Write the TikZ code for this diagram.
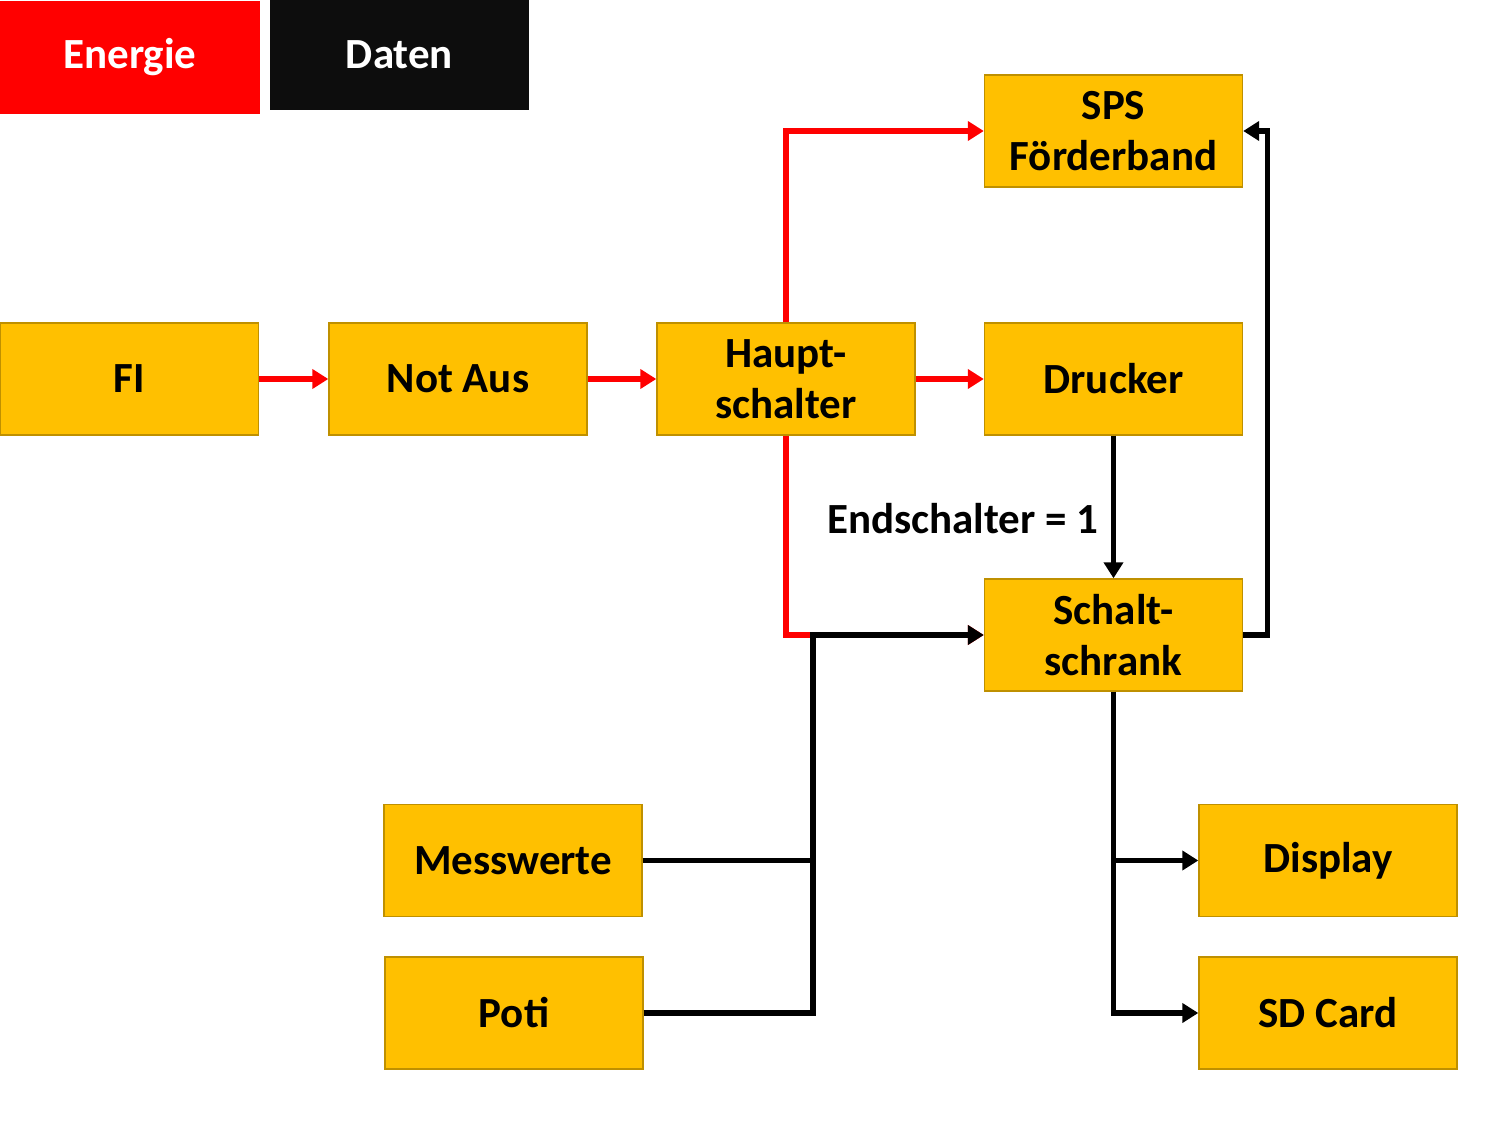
\documentclass[tikz,border=0pt]{standalone}
\usepackage{fontspec}
\setmainfont{Carlito}
\usetikzlibrary{arrows.meta}
\definecolor{boxgold}{HTML}{FFC000}
\definecolor{boxedge}{HTML}{BF9000}
\definecolor{powerred}{HTML}{FF0000}
\definecolor{dataink}{HTML}{0D0D0D}

\begin{document}
\begin{tikzpicture}[x=0.5pt,y=-0.5pt,
    block/.style={draw=boxedge, line width=0.7pt, fill=boxgold, minimum width=129pt,
      minimum height=56pt, inner sep=0pt, align=center,
      font=\fontsize{21.5}{25.5}\selectfont\bfseries},
    legend/.style={minimum height=56pt, inner sep=0pt, text=white,
      font=\fontsize{21.5}{25.5}\selectfont\bfseries},
    power/.style={draw=powerred, line width=2.7pt, -{Triangle[length=8pt,width=9.5pt]}},
    data/.style={draw=black, line width=2.7pt, -{Triangle[length=8pt,width=9.5pt]}},
    plain/.style={draw=black, line width=2.7pt}]
  \useasboundingbox (0,0) rectangle (1512,1134);

  % legend
  \node[legend, fill=powerred, minimum width=130pt, minimum height=56.5pt] (energie) at (130,57.5) {Energie};
  \node[legend, fill=dataink, minimum width=129.5pt, minimum height=55pt] (daten) at (399.5,55) {Daten};

  % blocks
  \node[block] (sps) at (1113.5,131) {SPS\\Förderband};
  \node[block] (fi) at (129.5,379) {FI};
  \node[block] (notaus) at (458,379) {Not Aus};
  \node[block] (haupt) at (786,379) {Haupt-\\schalter};
  \node[block] (drucker) at (1113.5,379) {Drucker};
  \node[block] (schrank) at (1113.5,635) {Schalt-\\schrank};
  \node[block] (mess) at (513,860.5) {Messwerte};
  \node[block] (poti) at (514,1013) {Poti};
  \node[block] (display) at (1328,860.5) {Display};
  \node[block] (sdcard) at (1328,1013) {SD Card};

  \coordinate (junct) at (813,635);

  % energie
  \draw[power] (fi) -- (notaus);
  \draw[power] (notaus) -- (haupt);
  \draw[power] (haupt) -- (drucker);
  \draw[power] (haupt.north) |- (sps.west);
  \draw[power] (haupt.south) |- (schrank.west);

  % daten
  \draw[data] (drucker) -- node[pos=0.58, left=3pt, font=\fontsize{21.5}{25.5}\selectfont\bfseries] (endlabel) {Endschalter = 1} (schrank);
  \draw[data] (poti.east) -| (junct) -- (schrank.west);
  \draw[plain] (mess.east) -- (mess.east -| junct);
  \draw[data] (schrank.east) -- ++(24,0) |- (sps.east);
  \draw[data] (schrank.south) |- (sdcard.west);
  \draw[data] (schrank.south |- display.west) -- (display.west);
\end{tikzpicture}
\end{document}
